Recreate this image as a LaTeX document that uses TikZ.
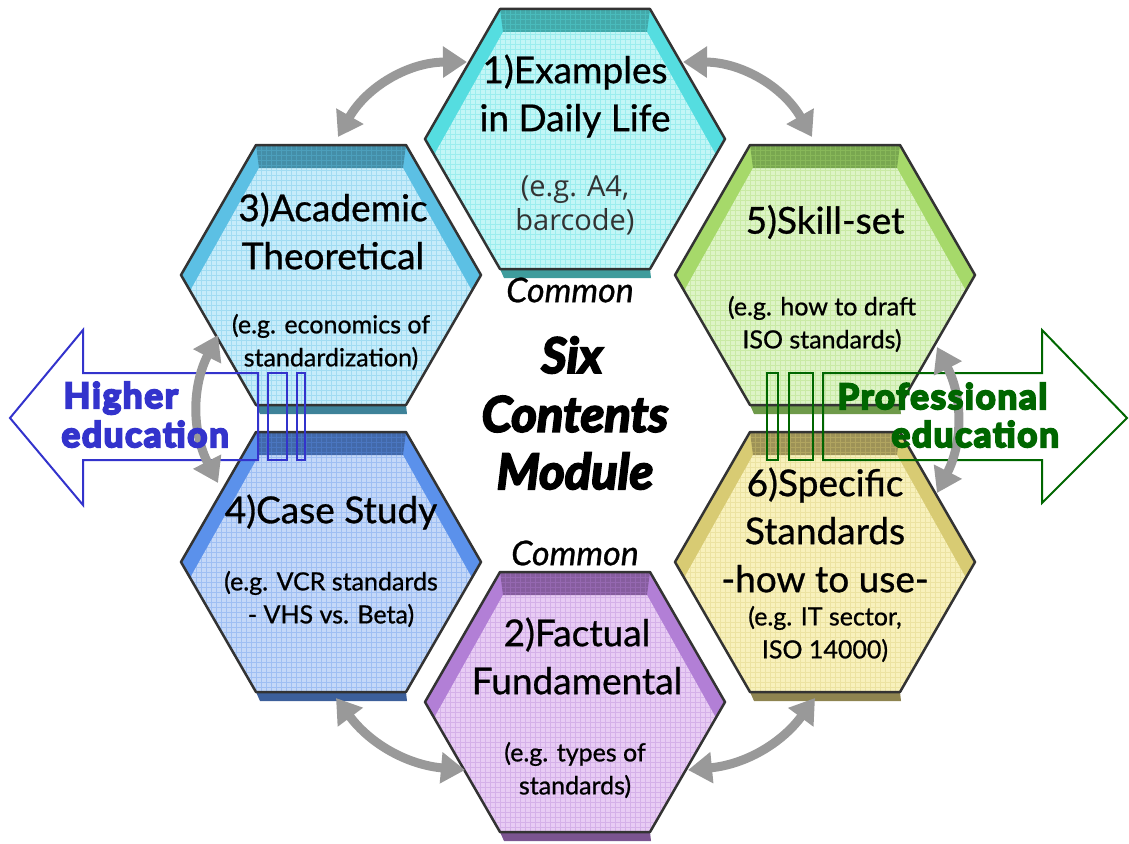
\documentclass[tikz,border=0pt]{standalone}
\usepackage{fontspec}
\setmainfont{Lato}
\newfontfamily\notefont{Open Sans}
\newfontfamily\titlefont{Lato}[FakeBold=0.8]
\newfontfamily\heavyfont{Lato}[FakeBold=4]
\newfontfamily\sidefont{Lato}[FakeBold=6,LetterSpace=5]
\usetikzlibrary{arrows.meta}

\definecolor{cyanlt}{HTML}{C2F6F6}\definecolor{cyanmd}{HTML}{55DDE0}\definecolor{cyandk}{HTML}{3E9C9C}
\definecolor{skylt}{HTML}{C6ECFA}\definecolor{skymd}{HTML}{5CC0E4}\definecolor{skydk}{HTML}{3E8299}
\definecolor{leaflt}{HTML}{DDF4C6}\definecolor{leafmd}{HTML}{A6D96A}\definecolor{leafdk}{HTML}{6E9A4A}
\definecolor{bluelt}{HTML}{C4D8F8}\definecolor{bluemd}{HTML}{5B91EB}\definecolor{bluedk}{HTML}{3C5F9A}
\definecolor{sandlt}{HTML}{F8F1BC}\definecolor{sandmd}{HTML}{D8CB73}\definecolor{sanddk}{HTML}{8E8450}
\definecolor{plumlt}{HTML}{E8CCF4}\definecolor{plummd}{HTML}{B27FD6}\definecolor{plumdk}{HTML}{7B5490}
\definecolor{arcgray}{HTML}{999999}
\definecolor{higherblue}{HTML}{3333CC}
\definecolor{profgreen}{HTML}{006600}

% one bevelled hexagon: name, centre, light, mid, dark
\newcommand{\hexcell}[5]{%
\begin{scope}[shift={#2}]
\fill[#5] (-75,130) -- (75,130) -- (76,139) -- (-71,139) -- cycle;
\fill[#4] (-150,0) -- (-75,-130) -- (75,-130) -- (150,0) -- (75,130) -- (-75,130) -- cycle;
\fill[#3] (-72,-107) -- (72,-107) -- (141,16) -- (75,130) -- (-75,130) -- (-141,16) -- cycle;
\fill[#5!80!#4] (-75,-130) -- (75,-130) -- (72,-107) -- (-72,-107) -- cycle;
\begin{scope}
\clip (-150,0) -- (-75,-130) -- (75,-130) -- (150,0) -- (75,130) -- (-75,130) -- cycle;
\draw[#4, opacity=.35, line width=.6pt] (-150,-135) grid[step=5pt] (150,135);
\end{scope}
\draw[line width=2.5pt, draw=black!80, line join=round] (-150,0) -- (-75,-130) -- (75,-130) -- (150,0) -- (75,130) -- (-75,130) -- cycle;
\coordinate (#1) at (0,0);
\end{scope}}

\begin{document}
\begin{tikzpicture}[x=1pt,y=1pt,yscale=-1,xscale=1,
  titletext/.style={align=center, font=\titlefont\fontsize{37}{48}\selectfont},
  notetext/.style={align=center, font=\titlefont\fontsize{25}{33}\selectfont},
  greynote/.style={align=center, text=black!80, font=\notefont\fontsize{29}{34}\selectfont},
  commontext/.style={font=\titlefont\itshape\fontsize{34}{36}\selectfont},
  moduletext/.style={font=\heavyfont\bfseries\itshape\fontsize{49}{57}\selectfont},
  sidetext/.style={font=\sidefont\bfseries\fontsize{35}{35}\selectfont, anchor=base west},
  ringarc/.style={draw=arcgray, line width=9pt, {Triangle[length=24pt,width=30pt]}-{Triangle[length=24pt,width=30pt]}},
  higherline/.style={draw=higherblue, line width=2pt, line join=miter},
  profline/.style={draw=profgreen, line width=2pt, line join=miter}]
\useasboundingbox (0,0) rectangle (1129,843);

% the six hexagons
\hexcell{daily}{(575,139)}{cyanlt}{cyanmd}{cyandk}
\hexcell{academic}{(331,275)}{skylt}{skymd}{skydk}
\hexcell{skill}{(825,275)}{leaflt}{leafmd}{leafdk}
\hexcell{casestudy}{(331,562)}{bluelt}{bluemd}{bluedk}
\hexcell{specific}{(825,562)}{sandlt}{sandmd}{sanddk}
\hexcell{factual}{(575,702)}{plumlt}{plummd}{plumdk}

% striped arrows
\draw[higherline] (10,418) -- (83,330) -- (83,373) -- (258,373) -- (258,460) -- (83,460) -- (83,505) -- cycle;
\draw[higherline] (268,373) rectangle (287,460);
\draw[higherline] (297,373) rectangle (305,460);
\draw[profline] (1127,418) -- (1042,330) -- (1042,373) -- (823,373) -- (823,460) -- (1042,460) -- (1042,503) -- cycle;
\draw[profline] (767,373) rectangle (778,460);
\draw[profline] (789,373) rectangle (813,460);

% curved links round the ring
\coordinate (l31) at (338,137);
\coordinate (l13) at (467,62);
\coordinate (l15) at (683,62);
\coordinate (l51) at (812,137);
\coordinate (l56) at (937,347);
\coordinate (l65) at (937,493);
\coordinate (l62) at (815,698);
\coordinate (l26) at (688,770);
\coordinate (l24) at (465,770);
\coordinate (l42) at (336,698);
\coordinate (l43) at (218,483);
\coordinate (l34) at (218,335);
\draw[ringarc] (l31) to[bend right=30] (l13);
\draw[ringarc] (l15) to[bend right=30] (l51);
\draw[ringarc] (l56) to[bend right=27] (l65);
\draw[ringarc] (l62) to[bend right=24] (l26);
\draw[ringarc] (l24) to[bend right=24] (l42);
\draw[ringarc] (l43) to[bend right=27] (l34);

% texts
\node[titletext] (t1) at (575,96) {1)Examples\\in Daily Life};
\node[greynote] (n1) at (575,205) {(e.g. A4,\\barcode)};
\node[titletext] (t3) at (333,231) {3)Academic\\Theoretical};
\node[notetext] (n3) at (331,342) {(e.g. economics of\\standardization)};
\node[titletext] (t5) at (825,222) {5)Skill-set};
\node[notetext] (n5) at (822,324) {(e.g. how to draft\\ISO standards)};
\node[titletext] (t4) at (331,512) {4)Case Study};
\node[notetext] (n4) at (331,599) {(e.g. VCR standards\\- VHS vs. Beta)};
\node[titletext] (t6) at (825,530) {6)Specific\\Standards\\-how to use-};
\node[notetext] (n6) at (825,634) {(e.g. IT sector,\\ISO 14000)};
\node[titletext] (t2) at (577,656) {2)Factual\\Fundamental};
\node[notetext] (n2) at (575,770) {(e.g. types of\\standards)};

\node[commontext] (c1) at (570,290) {Common};
\node[commontext] (c2) at (575,553) {Common};
\node[moduletext] (m1) at (572,355) {Six};
\node[moduletext] (m2) at (575,414) {Contents};
\node[moduletext] (m3) at (575,471) {Module};

\node[sidetext, text=higherblue] (h1) at (60,408) {Higher};
\node[sidetext, text=higherblue] (h2) at (58,447) {education};
\node[sidetext, text=profgreen] (p1) at (834,409) {Professional};
\node[sidetext, text=profgreen] (p2) at (888,447) {education};
\end{tikzpicture}
\end{document}
